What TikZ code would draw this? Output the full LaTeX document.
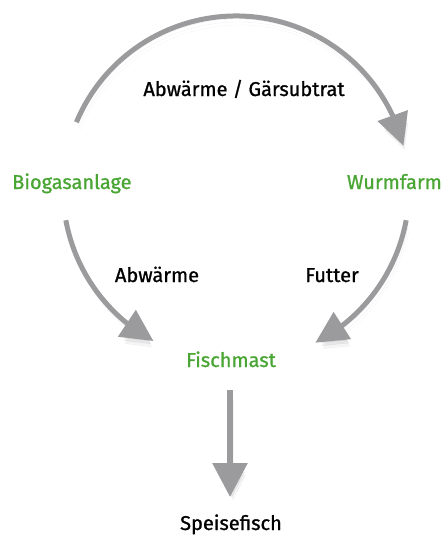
\documentclass[tikz,border=0pt]{standalone}
\usepackage{fontspec}
\setmainfont{Fira Sans}[FakeBold=1.0]
\usetikzlibrary{arrows.meta,bending,calc}
\definecolor{leafgreen}{RGB}{74,166,52}
\definecolor{arrowgrey}{RGB}{155,155,157}
\begin{document}
\begin{tikzpicture}[x=1pt,y=-1pt,
  softshadow/.style={
    preaction={draw=black, draw opacity=0.06, fill opacity=0.06, transform canvas={shift={(1pt,-3pt)}}},
    preaction={draw=black, draw opacity=0.06, fill opacity=0.06, transform canvas={shift={(2pt,-6pt)}}},
    preaction={draw=black, draw opacity=0.04, fill opacity=0.04, transform canvas={shift={(3pt,-9pt)}}}},
  flow/.style={draw=arrowgrey, line width=5pt, -{Triangle[width=31pt,length=32pt]}, softshadow},
  greenlabel/.style={text=leafgreen, font=\fontsize{20}{24}\selectfont, inner sep=0pt},
  blacklabel/.style={text=black, font=\fontsize{20}{24}\selectfont, inner sep=0pt}]
\useasboundingbox (0,0) rectangle (444,535);
\coordinate (c) at (236,189);
% nodes
\node[greenlabel, anchor=base west] (bio) at (12,189) {Biogasanlage};
\node[greenlabel, anchor=base east] (wurm) at (442,189) {Wurmfarm};
\node[greenlabel, anchor=base] (fisch) at (231,367) {Fischmast};
\node[blacklabel, anchor=base] (speise) at (231,530) {Speisefisch};
% labels
\node[blacklabel, anchor=base] (l1) at (244,96) {Abwärme / Gärsubtrat};
\node[blacklabel, anchor=base] (l2) at (157,282) {Abwärme};
\node[blacklabel, anchor=base] (l3) at (332,282) {Futter};
% arc end points
\coordinate (t0) at ($(c)+(-157.3:173)$);
\coordinate (a0) at ($(c)+(169.6:173)$);
\coordinate (b0) at ($(c)+(10.4:173)$);
\coordinate (v0) at (230,390);
\coordinate (v1) at (230,497);
% connectors
\draw[flow] (t0) arc[start angle=-157.3, end angle=-14.5, radius=173];
\draw[flow] (a0) arc[start angle=169.6, end angle=118.5, radius=173];
\draw[flow] (b0) arc[start angle=10.4, end angle=62.7, radius=173];
\draw[flow, line width=6pt, -{Triangle[width=34pt,length=34pt]}] (v0) -- (v1);
\end{tikzpicture}
\end{document}
